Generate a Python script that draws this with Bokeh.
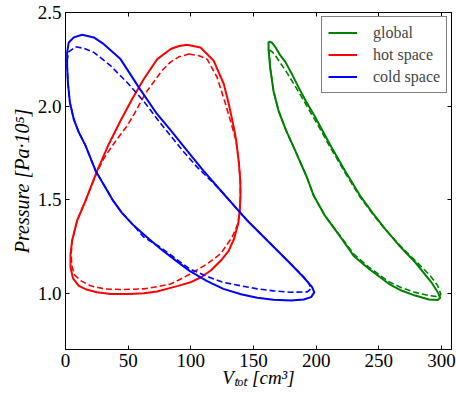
from bokeh.plotting import figure
from bokeh.models import (Range1d, FixedTicker, LinearAxis, Legend, LegendItem,
                          CustomJSTickFormatter)
from bokeh.embed import file_html
from bokeh.resources import INLINE

# ---------------- data ----------------
X_TICKS = [0, 50, 100, 150, 200, 250, 300]
Y_TICKS = [1.0, 1.5, 2.0, 2.5]
X_LABEL = "Vₜₒₜ [cm³]"
Y_LABEL = "Pressure [Pa·10⁵]"

# global (solid = measured, dashed = model)
global_x = [162, 164.5, 167.5, 171, 175.5, 180, 186, 192, 199, 205, 211, 223, 235, 245, 255, 267,
            279, 292, 297.5, 299, 297, 290, 279, 268, 258, 242, 230, 220.5, 207, 198, 192.6,
            183.3, 176, 170, 166, 163.3, 162, 162]
global_y = [2.345, 2.34, 2.315, 2.275, 2.235, 2.18, 2.10, 2.025, 1.945, 1.87, 1.795, 1.655, 1.522,
            1.43, 1.344, 1.25, 1.166, 1.059, 1.0, 0.975, 0.965, 0.967, 0.988, 1.015, 1.051, 1.131,
            1.2, 1.291, 1.415, 1.522, 1.62, 1.762, 1.87, 1.975, 2.08, 2.206, 2.3, 2.345]
global_x_d = [162.5, 165, 168, 172, 177, 183, 190, 196.5, 203, 210, 223, 235, 245, 255, 267, 279,
              291, 297, 299.5, 298, 290, 279, 268, 258, 242, 230, 220.5, 207, 198, 192.6, 183.3,
              176, 170, 166, 163.5, 162.5]
global_y_d = [2.30, 2.29, 2.265, 2.225, 2.175, 2.11, 2.03, 1.955, 1.88, 1.795, 1.645, 1.515, 1.425,
              1.342, 1.255, 1.175, 1.095, 1.04, 0.995, 0.982, 0.988, 1.005, 1.03, 1.062, 1.14,
              1.21, 1.295, 1.415, 1.522, 1.62, 1.762, 1.87, 1.975, 2.08, 2.2, 2.30]

# hot space
hot_x = [97, 107.7, 118.3, 126.3, 130.3, 134.3, 136.2, 138.3, 139.5, 139.6, 139, 138, 134.5, 130,
         124, 116, 108, 99.7, 90, 83.8, 73, 62.5, 50, 36, 25, 16, 10.6, 6, 4, 4, 5.3, 9.3, 16,
         25.3, 34.6, 43.9, 53.2, 62.5, 73.2, 84, 90, 97]
hot_y = [2.328, 2.313, 2.242, 2.118, 2.011, 1.886, 1.815, 1.70, 1.60, 1.52, 1.44, 1.379, 1.29,
         1.225, 1.175, 1.122, 1.086, 1.059, 1.04, 1.029, 1.01, 1.0, 0.996, 0.997, 1.006, 1.022,
         1.04, 1.08, 1.139, 1.21, 1.282, 1.389, 1.495, 1.655, 1.798, 1.922, 2.038, 2.145, 2.251,
         2.305, 2.32, 2.328]
hot_x_d = [98.4, 106, 113, 121, 127.7, 132.5, 136.2, 138.3, 139.5, 139.6, 139, 137.5, 133, 123.7,
           113, 99.7, 90, 83.8, 73, 62.5, 45, 30.6, 20, 12, 7, 5, 4.5, 5.3, 9.3, 16, 21, 26, 31,
           37, 43, 49.2, 55, 59.8, 65, 70.5, 77, 83.8, 90, 98.4]
hot_y_d = [2.278, 2.27, 2.251, 2.153, 2.011, 1.9, 1.815, 1.70, 1.60, 1.52, 1.44, 1.37, 1.30, 1.211,
           1.157, 1.104, 1.07, 1.05, 1.035, 1.024, 1.02, 1.024, 1.04, 1.068, 1.10, 1.15, 1.21,
           1.282, 1.389, 1.495, 1.58, 1.66, 1.725, 1.785, 1.84, 1.895, 1.96, 2.02, 2.08, 2.13,
           2.19, 2.235, 2.262, 2.278]

# cold space
cold_x = [13.3, 22.6, 30.6, 43.9, 58.5, 73, 84, 97, 110, 124, 138, 145, 161, 177, 190, 196.8,
          198.5, 196, 190, 180, 166, 153, 140, 126, 113, 99, 87, 76, 65, 54.5, 45, 38, 31, 24,
          19.5, 16, 10.6, 6.6, 3.5, 1.9, 1.3, 1.3, 2.6, 6.6, 13.3]
cold_y = [2.381, 2.367, 2.331, 2.251, 2.10, 1.958, 1.87, 1.762, 1.655, 1.548, 1.442, 1.389, 1.282,
          1.175, 1.086, 1.033, 1.005, 0.98, 0.967, 0.962, 0.966, 0.976, 0.995, 1.024, 1.065, 1.12,
          1.18, 1.237, 1.30, 1.362, 1.43, 1.495, 1.575, 1.655, 1.73, 1.789, 1.86, 1.93, 2.02,
          2.126, 2.216, 2.287, 2.34, 2.367, 2.381]
cold_x_d = [8, 15, 22.6, 35.9, 49.2, 62.5, 75.8, 84, 94.4, 105, 115.7, 124, 138, 145, 161, 177,
            189, 194, 196, 193, 180, 166, 153, 140, 126, 113, 99, 87, 76, 62.5, 54.5, 45, 38, 31,
            24, 19.5, 16, 10.6, 6.6, 3.5, 1.9, 1.3, 1.4, 2.6, 8]
cold_y_d = [2.317, 2.308, 2.287, 2.216, 2.126, 2.025, 1.908, 1.84, 1.755, 1.674, 1.604, 1.548,
            1.442, 1.389, 1.282, 1.175, 1.095, 1.055, 1.025, 1.008, 1.006, 1.013, 1.024, 1.04,
            1.059, 1.09, 1.131, 1.19, 1.245, 1.30, 1.362, 1.43, 1.495, 1.575, 1.655, 1.73, 1.789,
            1.86, 1.93, 2.02, 2.126, 2.216, 2.25, 2.29, 2.317]

LABELS = ["global", "hot space", "cold space"]
COLORS = ["#008000", "#ff0000", "#0000ff"]

FONT = "Liberation Serif"

# ---------------- figure ----------------
p = figure(width=456, height=395, output_backend="svg", toolbar_location=None,
           x_range=Range1d(0, 308), y_range=Range1d(0.7, 2.5),
           min_border_left=65, min_border_right=5, min_border_top=12, min_border_bottom=46)
p.grid.visible = False
p.outline_line_color = "black"
p.outline_line_width = 1
p.background_fill_color = "white"
p.border_fill_color = "white"

for ax, ticks in ((p.xaxis[0], X_TICKS), (p.yaxis[0], Y_TICKS)):
    ax.ticker = FixedTicker(ticks=ticks)
    ax.major_tick_in = 4
    ax.major_tick_out = 0
    ax.minor_tick_line_color = None
    ax.axis_line_color = "black"
    ax.major_tick_line_color = "black"
    ax.major_label_text_font = FONT
    ax.major_label_text_font_size = "19px"
    ax.major_label_text_color = "black"
    ax.major_label_standoff = 4
    ax.axis_label_text_font = FONT
    ax.axis_label_text_font_style = "italic"
    ax.axis_label_text_color = "black"

p.yaxis[0].formatter = CustomJSTickFormatter(code="return tick.toFixed(1);")
p.xaxis[0].axis_label = X_LABEL
p.xaxis[0].axis_label_text_font_size = "19px"
p.xaxis[0].axis_label_standoff = -3
p.yaxis[0].axis_label = Y_LABEL
p.yaxis[0].axis_label_text_font_size = "20px"
p.yaxis[0].axis_label_standoff = 2

empty = CustomJSTickFormatter(code="return '';")
ra = LinearAxis(ticker=FixedTicker(ticks=Y_TICKS), formatter=empty, major_tick_in=4,
                major_tick_out=0, minor_tick_line_color=None, major_label_standoff=0,
                major_label_text_font_size="1px", axis_line_color="black")
ta = LinearAxis(ticker=FixedTicker(ticks=X_TICKS), formatter=empty, major_tick_in=4,
                major_tick_out=0, minor_tick_line_color=None, major_label_standoff=0,
                major_label_text_font_size="1px", axis_line_color="black")
p.add_layout(ra, "right")
p.add_layout(ta, "above")

series = [(global_x, global_y, global_x_d, global_y_d),
          (hot_x, hot_y, hot_x_d, hot_y_d),
          (cold_x, cold_y, cold_x_d, cold_y_d)]
items = []
for (xs, ys, xd, yd), lab, col in zip(series, LABELS, COLORS):
    r = p.line(xs, ys, line_color=col, line_width=2.0, line_join="round")
    p.line(xd, yd, line_color=col, line_width=1.6, line_dash="6 3")
    items.append(LegendItem(label=lab, renderers=[r]))

legend = Legend(items=items, location=(256, 256), margin=0, padding=6, spacing=3,
                glyph_width=29, glyph_height=19, label_height=19, label_standoff=16,
                label_text_font=FONT, label_text_font_size="16px",
                label_text_font_style="normal",
                border_line_color="black", border_line_width=1,
                background_fill_color="white", background_fill_alpha=1.0)
p.add_layout(legend)

open("out.html", "w").write(file_html(p, INLINE))
